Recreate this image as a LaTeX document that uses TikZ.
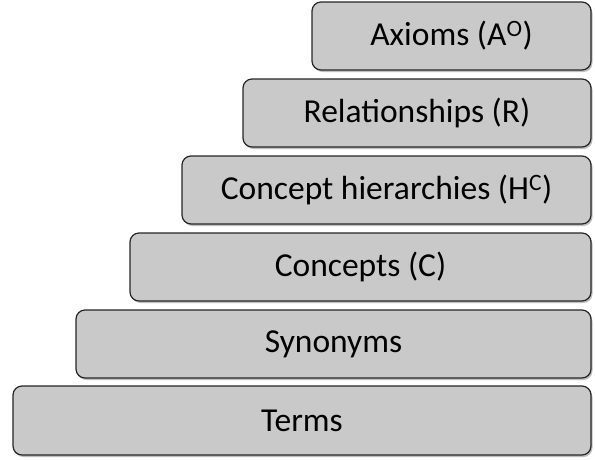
\documentclass[tikz,border=0pt]{standalone}
\usepackage{fontspec}
\setmainfont{Carlito}
\begin{document}
\begin{tikzpicture}[x=1pt,y=-1pt,
  layer/.style={draw=black!85, line width=1.2pt, fill=gray!42, rounded corners=9pt},
  lbl/.style={font=\fontsize{33.5}{38}\selectfont, text=black}]
\useasboundingbox[fill=white] (0,0) rectangle (595,459);
\foreach \l/\t/\b/\n in {312/2/70/ax, 243/79/147/re, 182/156/224/ch, 130/233/301/co, 76/310/378/sy, 13/386/455/te}{
  \fill[black!25, rounded corners=9pt] (\l+1.5,\t+2) rectangle (592.5,\b+2);
  \draw[layer] (\l,\t) rectangle (591,\b);
  \coordinate (\n) at ({(\l+591)/2},{(\t+\b)/2});
}
\node[lbl] (tax) at (ax) {Axioms (A\textsuperscript{O})};
\node[lbl] (tre) at (re) {Relationships (R)};
\node[lbl] (tch) at (ch) {Concept hierarchies (H\textsuperscript{C})};
\node[lbl] (tco) at (co) {Concepts (C)};
\node[lbl] (tsy) at (sy) {Synonyms};
\node[lbl] (tte) at (te) {Terms};
\end{tikzpicture}
\end{document}
